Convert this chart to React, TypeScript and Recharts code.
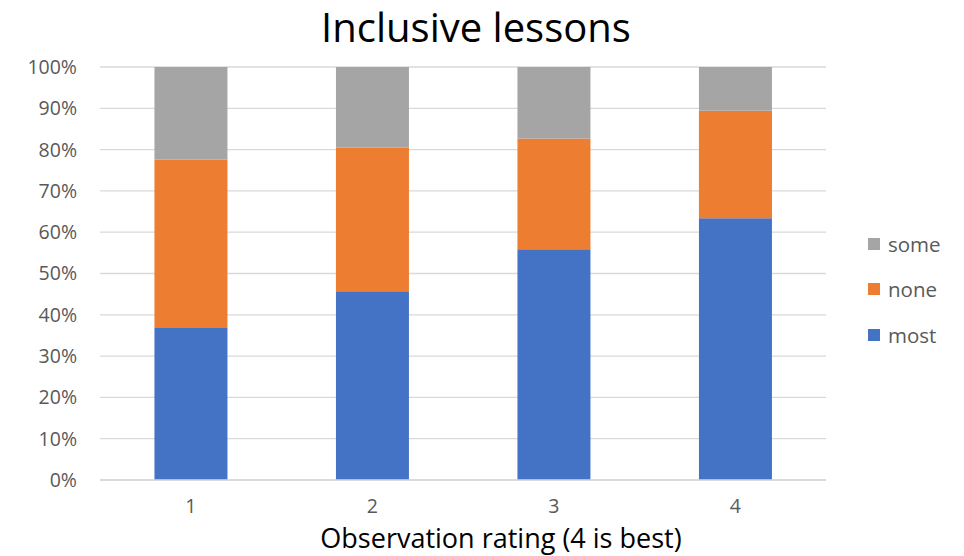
import React from 'react';
import { BarChart, Bar, XAxis, YAxis, CartesianGrid } from 'recharts';

// observation ratings (x categories)
const ratings = ['1', '2', '3', '4'];

// share of lessons, in percent
const most = [36.8, 45.7, 55.9, 63.4];
const none = [40.8, 34.8, 26.8, 26.0];
const some = [22.4, 19.5, 17.3, 10.6];

const yTicks = [0, 0.1, 0.2, 0.3, 0.4, 0.5, 0.6, 0.7, 0.8, 0.9, 1];

const seriesList = [
  { key: 'most', values: most, color: '#4472C4' },
  { key: 'none', values: none, color: '#ED7D31' },
  { key: 'some', values: some, color: '#A5A5A5' },
];

const chartData = ratings.map((rating, i) => ({
  rating,
  most: most[i],
  none: none[i],
  some: some[i],
}));

const FONT = '"Open Sans", Lato, sans-serif';
const GREY_TEXT = '#595959';

export default function App() {
  // legend lists series top-down in reverse stack order
  const legendItems = [...seriesList].reverse();

  return (
    <div style={{ position: 'absolute', left: 0, top: 0, width: 964, height: 556, background: '#fff', fontFamily: FONT }}>
      <div style={{ position: 'absolute', left: 0, width: 952, top: 3, textAlign: 'center', fontSize: 40, color: '#000', lineHeight: '48px' }}>
        Inclusive lessons
      </div>

      <BarChart
        width={964}
        height={556}
        data={chartData}
        stackOffset="expand"
        barCategoryGap="30%"
        margin={{ top: 67, right: 138, left: 0, bottom: 16 }}
      >
        <CartesianGrid vertical={false} stroke="#d9d9d9" strokeWidth={1.3} />
        <XAxis
          dataKey="rating"
          height={60}
          tickLine={false}
          tickSize={0}
          tickMargin={19}
          axisLine={{ stroke: '#d9d9d9', strokeWidth: 1.3 }}
          tick={{ fill: GREY_TEXT, fontSize: 19.5, fontFamily: FONT }}
        />
        <YAxis
          width={100}
          domain={[0, 1]}
          ticks={yTicks}
          interval={0}
          tickLine={false}
          axisLine={false}
          tickSize={0}
          tickMargin={23}
          tickFormatter={(v: number) => `${Math.round(v * 100)}%`}
          tick={{ fill: GREY_TEXT, fontSize: 19.5, fontFamily: FONT }}
        />
        {seriesList.map((s) => (
          <Bar key={s.key} dataKey={s.key} stackId="a" fill={s.color} isAnimationActive={false} />
        ))}
      </BarChart>

      <div style={{ position: 'absolute', left: 0, width: 1002, top: 524, textAlign: 'center', fontSize: 27, color: '#000', lineHeight: '27px' }}>
        Observation rating (4 is best)
      </div>

      <div style={{ position: 'absolute', left: 868, top: 221 }}>
        {legendItems.map((s) => (
          <div key={s.key} style={{ display: 'flex', alignItems: 'center', height: 45.5 }}>
            <span style={{ width: 12, height: 12, background: s.color, display: 'inline-block', marginRight: 8 }} />
            <span style={{ fontSize: 20.5, color: GREY_TEXT }}>{s.key}</span>
          </div>
        ))}
      </div>
    </div>
  );
}
